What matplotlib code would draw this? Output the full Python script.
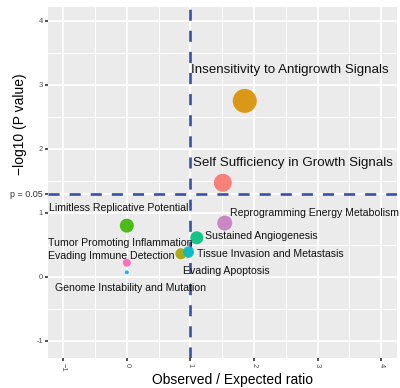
import numpy as np
import matplotlib.pyplot as plt
from matplotlib.ticker import MultipleLocator

plt.rcParams['font.family'] = ['Liberation Sans', 'DejaVu Sans']

# hallmark categories, observed/expected ratio, -log10(p) and marker radius (px)
hallmarks = [
    'Evading Apoptosis',
    'Self Sufficiency in Growth Signals',
    'Insensitivity to Antigrowth Signals',
    'Tumor Promoting Inflammation',
    'Limitless Replicative Potential',
    'Sustained Angiogenesis',
    'Tissue Invasion and Metastasis',
    'Genome Instability and Mutation',
    'Reprogramming Energy Metabolism',
    'Evading Immune Detection',
]
ratio = [0.97, 1.51, 1.855, 0.85, 0.0, 1.10, 0.97, 0.0, 1.54, 0.0]
log_p = [0.37, 1.47, 2.75, 0.36, 0.80, 0.61, 0.39, 0.07, 0.84, 0.22]
radius = [5, 9, 12, 5.5, 7, 6.5, 5.5, 2, 7.5, 4]
colors = ['#9590FF', '#F8766D', '#D89000', '#A3A500', '#39B600',
          '#00BF7D', '#00BFC4', '#00B0F6', '#C77CC0', '#FF62BC']

# repelled label positions (data coords) and size
label_x = [1.57, 2.61, 2.56, -0.11, -0.13, 2.11, 2.25, 0.05, 2.96, -0.24]
label_y = [0.09, 1.78, 3.23, 0.53, 1.08, 0.64, 0.36, -0.17, 1.00, 0.33]
label_big = [False, True, True, False, False, False, False, False, False, False]

p_cut = -np.log10(0.05)

fig = plt.figure(figsize=(4.0, 3.88), dpi=100)
ax = fig.add_axes([0.12, 0.0773, 0.8725, 0.905])
ax.set_facecolor('#EBEBEB')
for s in ax.spines.values():
    s.set_visible(False)

ax.set_xlim(-1.24, 4.25)
ax.set_ylim(-1.27, 4.22)
ax.xaxis.set_major_locator(MultipleLocator(1))
ax.xaxis.set_minor_locator(MultipleLocator(0.5))
ax.set_yticks([-1, 0, 1, p_cut, 2, 3, 4])
ax.set_yticks(np.arange(-0.5, 4.1, 1.0), minor=True)
ax.set_yticklabels(['-1', '0', '1', 'p = 0.05', '2', '3', '4'])
ax.grid(which='major', color='white', linewidth=1.3)
ax.grid(which='minor', color='white', linewidth=0.7)
ax.set_axisbelow(True)
ax.tick_params(which='major', length=2, width=1.2, color='#333333',
               labelsize=5.5, labelcolor='#4D4D4D', pad=1.5)
ax.tick_params(which='minor', length=0)
for lbl in ax.get_yticklabels():
    if lbl.get_text() == 'p = 0.05':
        lbl.set_fontsize(6.5)
        lbl.set_color('#333333')
for lbl in ax.get_xticklabels():
    lbl.set_rotation(-90)

ax.axhline(p_cut, color='#3552A6', linewidth=1.9, dashes=(4.2, 3.8), zorder=2)
ax.axvline(1, color='#3552A6', linewidth=1.9, dashes=(4.2, 3.8), zorder=2)

sizes = [(2 * r * 0.72) ** 2 for r in radius]
ax.scatter(ratio, log_p, s=sizes, c=colors, alpha=0.9, linewidths=0, zorder=3)

for name, x, y, big in zip(hallmarks, label_x, label_y, label_big):
    ax.text(x, y, name, ha='center', va='center',
            fontsize=9.6 if big else 7.6, color='#111111', zorder=4)

fig.text(233 / 400, 1 - 380 / 388, 'Observed / Expected ratio',
         fontsize=10, ha='center', va='center')
fig.text(20 / 400, 1 - 124 / 388, '\u2212log10 (P value)', fontsize=10,
         rotation=90, ha='center', va='center')

fig.savefig('out.png', dpi=100)
